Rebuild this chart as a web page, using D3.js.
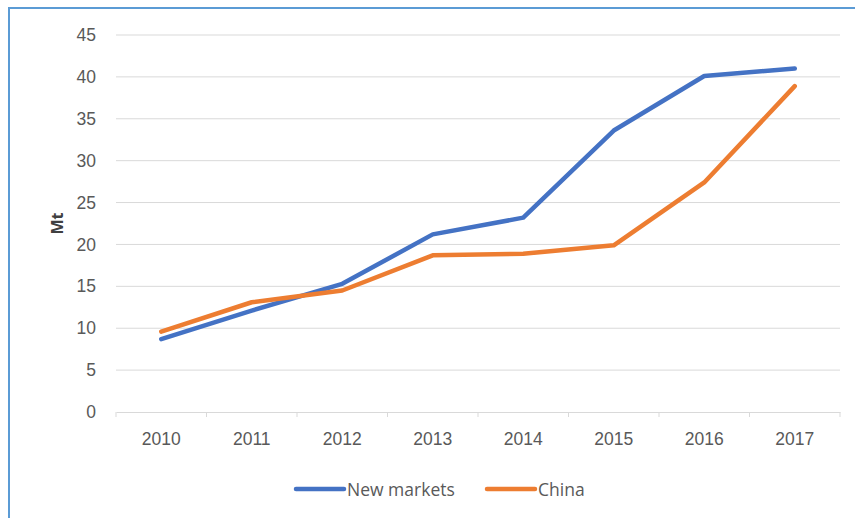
<!DOCTYPE html>
<html>
<head>
<meta charset="utf-8">
<script src="https://cdn.jsdelivr.net/npm/d3@7"></script>
<style>
  body { margin: 0; background: #fff; }
  svg { display: block; font-family: "Open Sans", "Noto Sans", sans-serif; }
</style>
</head>
<body>
<div class="center"></div>
<script>
// data
const years = ["2010", "2011", "2012", "2013", "2014", "2015", "2016", "2017"];
const newMarkets = [8.7, 12.1, 15.3, 21.2, 23.2, 33.6, 40.1, 41.0];
const china = [9.6, 13.1, 14.5, 18.7, 18.9, 19.9, 27.4, 38.9];
const yTicks = [0, 5, 10, 15, 20, 25, 30, 35, 40, 45];
const seriesNames = ["New markets", "China"];

const W = 855, H = 518;
const margin = {top: 35, right: 15, bottom: 106, left: 116};
const width = W - margin.left - margin.right;
const height = H - margin.top - margin.bottom;

const colorScale = d3.scaleOrdinal().domain(seriesNames).range(["#4472C4", "#ED7D31"]);

const svg = d3.select(".center").append("svg")
    .attr("width", W)
    .attr("height", H);

// frame round the picture
svg.append("rect")
    .attr("x", 9).attr("y", 8)
    .attr("width", W + 20).attr("height", H + 20)
    .attr("fill", "none")
    .attr("stroke", "#5B9BD5")
    .attr("stroke-width", 2);

const g = svg.append("g")
    .attr("transform", `translate(${margin.left},${margin.top})`);

// set the ranges
const xScale = d3.scaleBand().domain(years).range([0, width]);
const yScale = d3.scaleLinear().domain([0, 45]).range([height, 0]);

// grid lines
g.append("g")
    .selectAll("line")
    .data(yTicks.filter(d => d > 0))
    .enter().append("line")
    .attr("x1", 0).attr("x2", width)
    .attr("y1", d => yScale(d)).attr("y2", d => yScale(d))
    .attr("stroke", "#d9d9d9")
    .attr("stroke-width", 1);

// y axis (labels only)
const yAxis = d3.axisLeft(yScale).tickValues(yTicks).tickSize(0).tickPadding(20);
g.append("g")
    .call(yAxis)
    .call(a => a.select(".domain").remove())
    .selectAll("text")
    .style("font-size", "17.5px")
    .style("fill", "#595959");

// x axis with ticks on the band edges
const xAxis = d3.axisBottom(xScale).tickSize(0).tickPadding(21);
const xg = g.append("g")
    .attr("transform", `translate(0,${height})`)
    .call(xAxis);
xg.select(".domain").attr("stroke", "#d9d9d9");
xg.selectAll("text")
    .style("font-size", "17.5px")
    .style("fill", "#595959");
xg.selectAll(".edge")
    .data(d3.range(years.length + 1))
    .enter().append("line")
    .attr("class", "edge")
    .attr("x1", i => i * xScale.step()).attr("x2", i => i * xScale.step())
    .attr("y1", 0).attr("y2", 5)
    .attr("stroke", "#d9d9d9");

// lines
const valueline = d3.line()
    .x((d, i) => xScale(years[i]) + xScale.bandwidth() / 2)
    .y(d => yScale(d));

[newMarkets, china].forEach(function(vals, k) {
    g.append("path")
        .datum(vals)
        .attr("d", valueline)
        .attr("fill", "none")
        .attr("stroke", colorScale(seriesNames[k]))
        .attr("stroke-width", 4.5)
        .attr("stroke-linejoin", "round")
        .attr("stroke-linecap", "round");
});

// y axis title
svg.append("text")
    .attr("transform", `translate(63,${margin.top + height / 2}) rotate(-90)`)
    .attr("text-anchor", "middle")
    .style("font-size", "16px")
    .style("font-weight", "700")
    .style("fill", "#404040")
    .text("Mt");

// legend
const legendX = [296, 487];
seriesNames.forEach(function(name, k) {
    svg.append("line")
        .attr("x1", legendX[k]).attr("x2", legendX[k] + 48)
        .attr("y1", 489).attr("y2", 489)
        .attr("stroke", colorScale(name))
        .attr("stroke-width", 4.5)
        .attr("stroke-linecap", "round");
    svg.append("text")
        .attr("x", legendX[k] + 51)
        .attr("y", 495.5)
        .style("font-size", "17.5px")
        .style("fill", "#595959")
        .text(name);
});
</script>
</body>
</html>
